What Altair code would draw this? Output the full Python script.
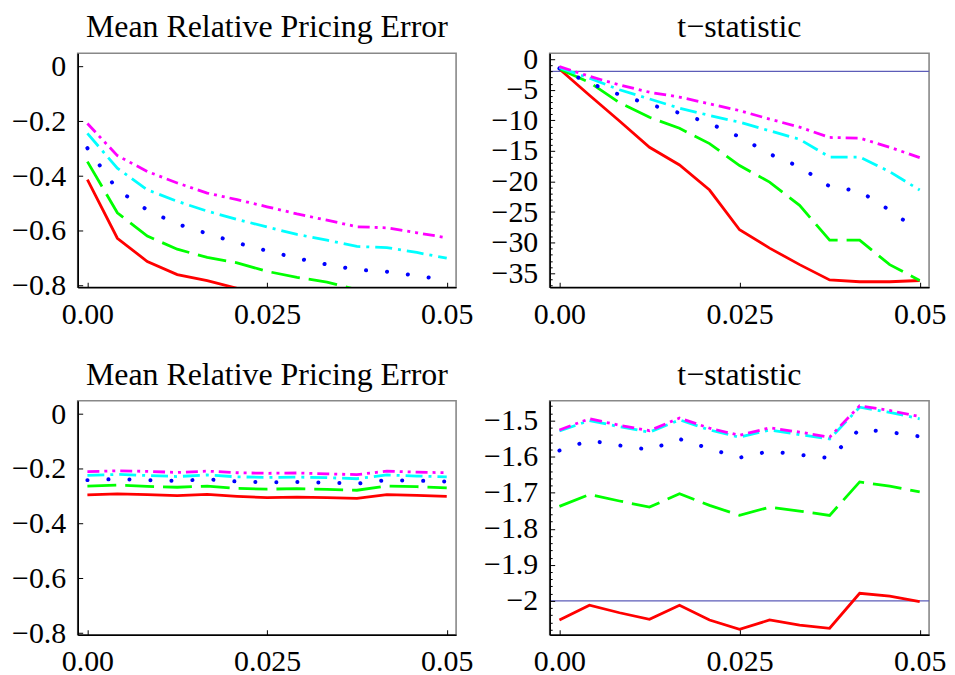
import altair as alt
import pandas as pd

# ---------------- data ----------------
x_vals = [0.0, 0.004167, 0.008333, 0.0125, 0.016667, 0.020833, 0.025,
          0.029167, 0.033333, 0.0375, 0.041667, 0.045833, 0.05]

series = ["solid", "dashed", "dotted", "dashdot", "dashdotdot"]

# top-left: Mean Relative Pricing Error
err_top_solid = [-0.413, -0.627, -0.712, -0.760, -0.782, -0.810, -0.830, -0.845, -0.860, -0.870, -0.880, -0.885, -0.890]
err_top_dashed = [-0.347, -0.534, -0.619, -0.667, -0.697, -0.717, -0.748, -0.770, -0.787, -0.815, -0.825, -0.840, -0.850]
err_top_dotted = [-0.298, -0.450, -0.524, -0.575, -0.610, -0.644, -0.673, -0.700, -0.723, -0.742, -0.749, -0.764, -0.780]
err_top_dashdot = [-0.244, -0.371, -0.450, -0.492, -0.528, -0.558, -0.586, -0.613, -0.634, -0.657, -0.661, -0.679, -0.700]
err_top_dashdotdot = [-0.208, -0.325, -0.383, -0.425, -0.462, -0.486, -0.512, -0.538, -0.561, -0.585, -0.589, -0.607, -0.625]

# top-right: t-statistic
t_top_solid = [-1.6, -5.9, -10.1, -14.4, -17.3, -21.4, -27.9, -30.9, -33.6, -36.1, -36.4, -36.4, -36.2]
t_top_dashed = [-1.6, -3.8, -7.1, -9.5, -11.3, -13.8, -17.4, -20.1, -23.9, -29.6, -29.6, -33.6, -36.2]
t_top_dotted = [-1.5, -3.9, -5.8, -7.4, -8.8, -10.5, -12.7, -15.5, -17.6, -20.8, -21.6, -24.7, -28.2]
t_top_dashdot = [-1.4, -3.1, -5.0, -6.5, -8.0, -9.2, -10.3, -11.7, -13.1, -16.0, -16.0, -18.4, -21.4]
t_top_dashdotdot = [-1.2, -2.8, -4.2, -5.4, -6.2, -7.3, -8.4, -9.8, -11.1, -12.8, -12.9, -14.4, -16.1]

# bottom-left: Mean Relative Pricing Error
err_bot_solid = [-0.295, -0.291, -0.294, -0.298, -0.293, -0.300, -0.305, -0.303, -0.305, -0.308, -0.294, -0.297, -0.300]
err_bot_dashed = [-0.263, -0.259, -0.264, -0.267, -0.263, -0.271, -0.274, -0.272, -0.275, -0.278, -0.263, -0.265, -0.269]
err_bot_dotted = [-0.241, -0.237, -0.241, -0.244, -0.238, -0.246, -0.249, -0.248, -0.250, -0.254, -0.241, -0.243, -0.246]
err_bot_dashdot = [-0.224, -0.220, -0.224, -0.228, -0.222, -0.229, -0.231, -0.230, -0.232, -0.236, -0.222, -0.226, -0.229]
err_bot_dashdotdot = [-0.210, -0.207, -0.209, -0.213, -0.208, -0.214, -0.216, -0.215, -0.218, -0.221, -0.208, -0.212, -0.214]

# bottom-right: t-statistic
t_bot_solid = [-2.053, -2.012, -2.033, -2.051, -2.012, -2.053, -2.079, -2.053, -2.067, -2.076, -1.979, -1.987, -2.002]
t_bot_dashed = [-1.738, -1.705, -1.723, -1.740, -1.703, -1.735, -1.763, -1.740, -1.751, -1.763, -1.670, -1.682, -1.698]
t_bot_dotted = [-1.583, -1.555, -1.569, -1.581, -1.551, -1.578, -1.603, -1.585, -1.595, -1.604, -1.524, -1.532, -1.544]
t_bot_dashdot = [-1.529, -1.500, -1.517, -1.532, -1.498, -1.526, -1.546, -1.526, -1.539, -1.551, -1.463, -1.477, -1.495]
t_bot_dashdotdot = [-1.526, -1.495, -1.513, -1.528, -1.493, -1.521, -1.541, -1.520, -1.532, -1.546, -1.459, -1.472, -1.489]

titles = ["Mean Relative Pricing Error", "t\u2212statistic",
          "Mean Relative Pricing Error", "t\u2212statistic"]

x_ticks = [0, 0.025, 0.05]
err_ticks = [0, -0.2, -0.4, -0.6, -0.8]
t_top_ticks = [0, -5, -10, -15, -20, -25, -30, -35]
t_top_minor = [v for v in range(-37, 1) if v % 5 != 0]
t_bot_ticks = [-1.5, -1.6, -1.7, -1.8, -1.9, -2.0]
t_bot_minor = [round(-2.08 + 0.02 * k, 2) for k in range(32) if (k + 1) % 5 != 0]
ref_level = [-2]

# ---------------- style ----------------
FONT = "Liberation Serif"
LABEL_SIZE = 30
TITLE_SIZE = 32
colors = ["#ff0000", "#00ff00", "#0000ff", "#00ffff", "#ff00ff"]
dashes = [None, [29, 9], [0.1, 21], [17, 6, 3, 6], [12, 5, 3, 5, 3, 5]]
caps = ["butt", "butt", "round", "butt", "butt"]
widths = [2.8, 2.8, 4.0, 2.8, 2.8]
REF_COLOR = "#5c5cb8"
X_DOM = [-0.00135, 0.0513]
PANEL_H = 235


def make_df(lists):
    rows = []
    for name, vals in zip(series, lists):
        for xv, yv in zip(x_vals, vals):
            rows.append({"x": xv, "y": yv, "s": name})
    return pd.DataFrame(rows)


def label_axis(orient, values, expr, pad):
    kw = dict(orient=orient, values=values, labelFont=FONT, labelFontSize=LABEL_SIZE,
              labelColor="black", labelPadding=pad, labelFlush=False, labelOverlap=False,
              ticks=False, tickSize=0, domain=True, domainColor="black", domainWidth=1.6,
              grid=False, title=None, zindex=1)
    if expr.startswith("fmt:"):
        kw["format"] = expr[4:]
    else:
        kw["labelExpr"] = expr
    return alt.Axis(**kw)


def tick_axis(orient, values, size):
    return alt.Axis(orient=orient, values=values, labels=False, ticks=True, tickSize=size,
                    tickColor="black", tickWidth=1, offset=-size, domain=False, grid=False,
                    title=None, zindex=1)


X_EXPR = "datum.value == 0 ? '0.00' : (datum.value < 0.04 ? '0.025' : '0.05')"


def panel(lists, y_dom, y_ticks, y_expr, y_minor, title, width, ref=None):
    df = make_df(lists)
    xs = alt.Scale(domain=X_DOM, nice=False, zero=False)
    ys = alt.Scale(domain=y_dom, nice=False, zero=False)
    layers = []
    if ref is not None:
        layers.append(
            alt.Chart(pd.DataFrame({"y": ref})).mark_rule(color=REF_COLOR, strokeWidth=1.3)
            .encode(y=alt.Y("y:Q", scale=ys, axis=None))
        )
    for i, s in enumerate(series):
        if i == 0:
            xa = label_axis("bottom", x_ticks, X_EXPR, 12)
            ya = label_axis("left", y_ticks, y_expr, 12)
        elif i == 1:
            xa = tick_axis("bottom", x_ticks, 5)
            ya = tick_axis("left", y_ticks, 5)
        elif i == 2 and y_minor:
            xa = None
            ya = tick_axis("left", y_minor, 2.5)
        else:
            xa = None
            ya = None
        mk = dict(color=colors[i], strokeWidth=widths[i], strokeCap=caps[i], clip=True)
        if dashes[i] is not None:
            mk["strokeDash"] = dashes[i]
        layers.append(
            alt.Chart(df).transform_filter(alt.datum.s == s).mark_line(**mk)
            .encode(x=alt.X("x:Q", scale=xs, axis=xa), y=alt.Y("y:Q", scale=ys, axis=ya))
        )
    # panel heading, placed just above the frame
    layers.append(
        alt.Chart(pd.DataFrame({"t": [title]})).mark_text(
            font=FONT, fontSize=TITLE_SIZE, color="black", align="center", baseline="alphabetic"
        ).encode(text="t:N", x=alt.value(width / 2), y=alt.value(-16))
    )
    return (
        alt.layer(*layers)
        .resolve_axis(x="independent", y="independent")
        .properties(width=width, height=PANEL_H)
    )


ERR_EXPR = "datum.value == 0 ? '0' : format(datum.value, '.1f')"
TB_EXPR = "abs(datum.value + 2) < 1e-6 ? format(datum.value, '.0f') : format(datum.value, '.1f')"

p1 = panel([err_top_solid, err_top_dashed, err_top_dotted, err_top_dashdot, err_top_dashdotdot],
           [-0.806, 0.049], err_ticks, ERR_EXPR, None, titles[0], 380)
p2 = panel([t_top_solid, t_top_dashed, t_top_dotted, t_top_dashdot, t_top_dashdotdot],
           [-37.3, 0.98], t_top_ticks, "fmt:d", t_top_minor, titles[1], 381, ref=ref_level)
p3 = panel([err_bot_solid, err_bot_dashed, err_bot_dotted, err_bot_dashdot, err_bot_dashdotdot],
           [-0.806, 0.049], err_ticks, ERR_EXPR, None, titles[2], 380)
p4 = panel([t_bot_solid, t_bot_dashed, t_bot_dotted, t_bot_dashdot, t_bot_dashdotdot],
           [-2.094, -1.445], t_bot_ticks, TB_EXPR, t_bot_minor, titles[3], 381, ref=ref_level)

chart = (
    alt.concat(p1, p2, p3, p4, columns=2, spacing={"row": 114, "column": 94}, bounds="flush")
    .properties(padding={"left": 2, "top": 1, "right": 0, "bottom": 0}, background="white")
    .configure_view(stroke="#888888", strokeWidth=1.6)
)

chart.save("out.html", embed_options={"renderer": "svg", "actions": False})
